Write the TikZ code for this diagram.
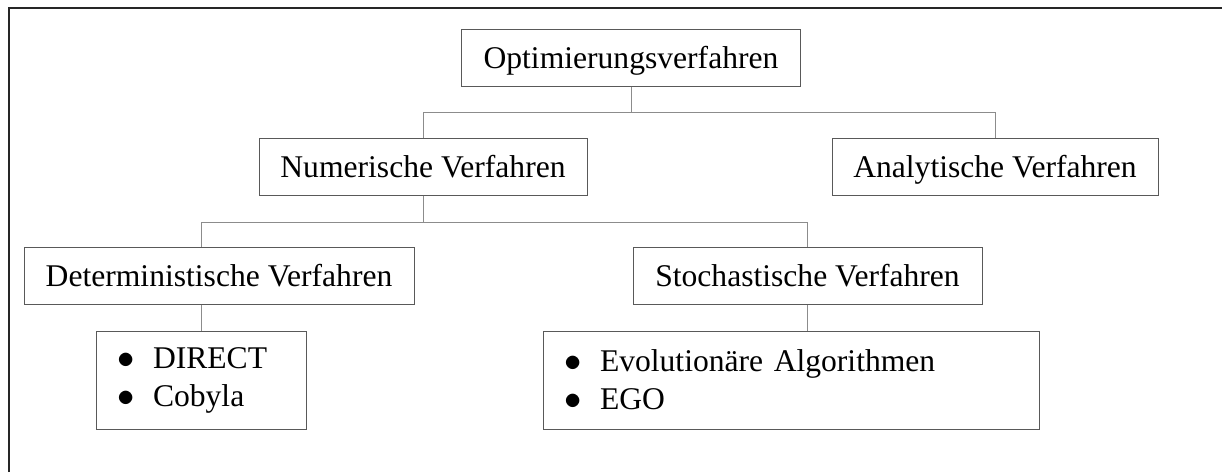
\documentclass[tikz,border=0pt]{standalone}
\usepackage{fontspec}
\setmainfont{Liberation Serif}
\usepackage{tikz}
\usetikzlibrary{positioning}
\tikzset{
	verfahren/.style={draw=black!65, line width=0.5pt, minimum height=28.5pt, inner xsep=10pt, text height=12pt, text depth=1.5pt, font=\fontsize{15.8}{19}\selectfont}
}
\tikzset{
	listbox/.style={draw=black!65, line width=0.5pt, align=left, minimum height=49pt, inner xsep=9.5pt, font=\fontsize{15.8}{19}\selectfont}
}
\tikzset{
	conn/.style={draw=black!45, line width=0.5pt}
}
\newcommand{\itm}{\makebox[19pt][l]{\hspace{1pt}\fontsize{19}{19}\selectfont$\bullet$}}

\begin{document}
\begin{tikzpicture}[x=0.5pt, y=-0.5pt]
      \useasboundingbox (0,0) rectangle (1222,472);
      \draw[line width=1pt, black!85] (9,472) -- (9,8) -- (1222,8);
      \node[verfahren, minimum width=169.5pt] (opt) at (631,57.5) {Optimierungsverfahren};
      \node[verfahren, minimum width=164pt] (num) at (423,166.5) {Numerische Verfahren};
      \node[verfahren, minimum width=163pt] (ana) at (995,167) {Analytische Verfahren};
      \node[verfahren, minimum width=195pt] (det) at (219,275.5) {Deterministische Verfahren};
      \node[verfahren, minimum width=174.5pt] (sto) at (807.5,276) {Stochastische Verfahren};
      \node[listbox, text width=86pt] (dlist) at (201,380) {\itm DIRECT\\ \itm Cobyla};
      \node[listbox, text width=229pt] (slist) at (791,380) {\itm Evolution\"are Algorithmen\\ \itm EGO};
      \draw[conn] (opt.south) -- ++(0,26) coordinate (j1);
      \draw[conn] (num.north) |- (j1) -| (ana.north);
      \draw[conn] (num.south) -- ++(0,27) coordinate (j2);
      \draw[conn] (dlist.north |- det.north) |- (j2) -| (sto.north);
      \draw[conn] (det.south -| dlist.north) -- (dlist.north);
      \draw[conn] (sto.south) -- (sto.south |- slist.north);
    \end{tikzpicture}
\end{document}
